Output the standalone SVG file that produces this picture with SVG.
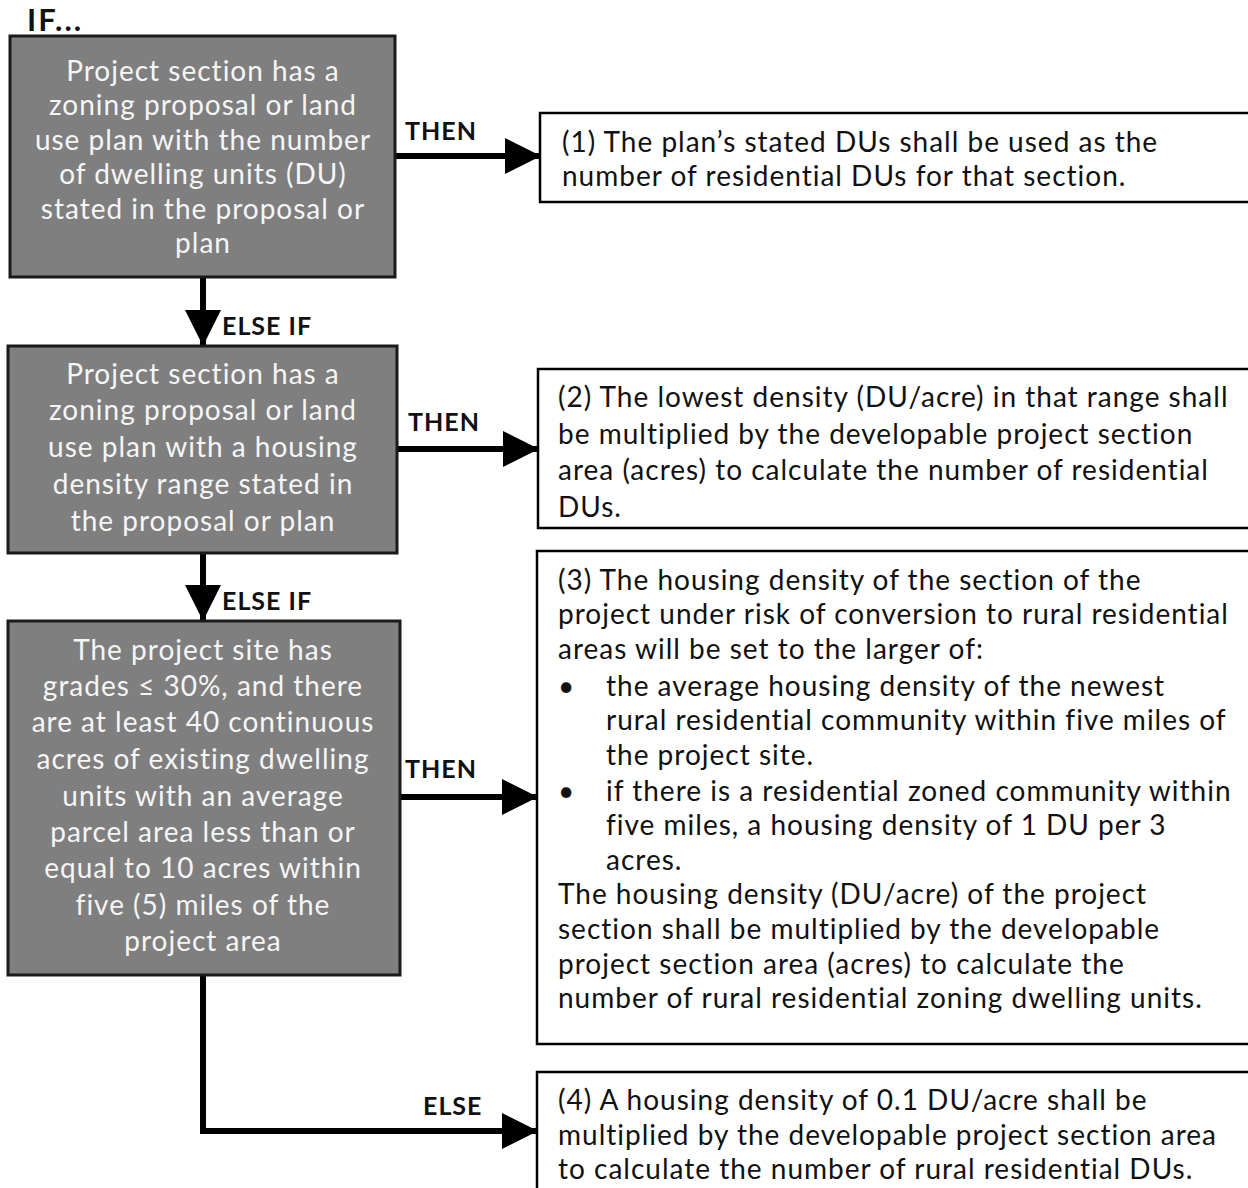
<svg xmlns="http://www.w3.org/2000/svg" width="1248" height="1188" viewBox="0 0 1248 1188">
<style>
.cond{fill:#7f7f7f;stroke:#1a1a1a;stroke-width:3}
.res{fill:#fff;stroke:#000;stroke-width:2.5}
.ct{font-family:Lato,"Noto Sans",sans-serif;font-size:28px;letter-spacing:1px;fill:#f5f5f5;text-anchor:middle}
.rt{font-family:Lato,"Noto Sans",sans-serif;font-size:28px;letter-spacing:1px;fill:#111}
.lbl{font-family:Lato,"Noto Sans",sans-serif;font-size:25px;letter-spacing:1px;font-weight:bold;fill:#111}
.ln{stroke:#000;stroke-width:6;fill:none}
</style>
<defs>
<marker id="ah" markerUnits="userSpaceOnUse" markerWidth="36" markerHeight="36" refX="35" refY="18" orient="auto">
<path d="M0,0 L36,18 L0,36 Z" fill="#000"/>
</marker>
</defs>
<rect width="1248" height="1188" fill="#fff"/>
<text class="lbl" x="27" y="31" style="font-size:31px;letter-spacing:2px">IF...</text>
<g id="connectors">
<line class="ln" x1="395" y1="156" x2="540" y2="156" marker-end="url(#ah)"/>
<line class="ln" x1="203" y1="277" x2="203" y2="345" marker-end="url(#ah)"/>
<line class="ln" x1="397" y1="449" x2="538" y2="449" marker-end="url(#ah)"/>
<line class="ln" x1="203" y1="553" x2="203" y2="620" marker-end="url(#ah)"/>
<line class="ln" x1="400" y1="797" x2="537" y2="797" marker-end="url(#ah)"/>
<polyline class="ln" points="203,975 203,1131 537,1131" marker-end="url(#ah)"/>
<text class="lbl" x="405" y="140">THEN</text>
<text class="lbl" x="222" y="335">ELSE IF</text>
<text class="lbl" x="408" y="431">THEN</text>
<text class="lbl" x="222" y="610">ELSE IF</text>
<text class="lbl" x="405" y="778">THEN</text>
<text class="lbl" x="423" y="1115">ELSE</text>
</g>
<g id="c1">
<rect class="cond" x="10" y="36" width="385" height="241"/>
<text class="ct" x="203"><tspan x="203" y="81">Project section has a</tspan><tspan x="203" y="115">zoning proposal or land</tspan><tspan x="203" y="150">use plan with the number</tspan><tspan x="203" y="184">of dwelling units (DU)</tspan><tspan x="203" y="219">stated in the proposal or</tspan><tspan x="203" y="253">plan</tspan></text>
</g>
<g id="c2">
<rect class="cond" x="8" y="346" width="389" height="207"/>
<text class="ct"><tspan x="203" y="384">Project section has a</tspan><tspan x="203" y="420">zoning proposal or land</tspan><tspan x="203" y="457">use plan with a housing</tspan><tspan x="203" y="494">density range stated in</tspan><tspan x="203" y="531">the proposal or plan</tspan></text>
</g>
<g id="c3">
<rect class="cond" x="8" y="621" width="392" height="354"/>
<text class="ct"><tspan x="203" y="660">The project site has</tspan><tspan x="203" y="696">grades ≤ 30%, and there</tspan><tspan x="203" y="732">are at least 40 continuous</tspan><tspan x="203" y="769">acres of existing dwelling</tspan><tspan x="203" y="806">units with an average</tspan><tspan x="203" y="842">parcel area less than or</tspan><tspan x="203" y="878">equal to 10 acres within</tspan><tspan x="203" y="915">five (5) miles of the</tspan><tspan x="203" y="951">project area</tspan></text>
</g>
<g id="r1">
<rect class="res" x="540" y="113" width="720" height="89"/>
<text class="rt"><tspan x="562" y="152">(1) The plan’s stated DUs shall be used as the</tspan><tspan x="562" y="186">number of residential DUs for that section.</tspan></text>
</g>
<g id="r2">
<rect class="res" x="538" y="369" width="720" height="159"/>
<text class="rt"><tspan x="558" y="407">(2) The lowest density (DU/acre) in that range shall</tspan><tspan x="558" y="444">be multiplied by the developable project section</tspan><tspan x="558" y="480">area (acres) to calculate the number of residential</tspan><tspan x="558" y="517">DUs.</tspan></text>
</g>
<g id="r3">
<rect class="res" x="537" y="551" width="720" height="493"/>
<text class="rt"><tspan x="558" y="590">(3) The housing density of the section of the</tspan><tspan x="558" y="624">project under risk of conversion to rural residential</tspan><tspan x="558" y="659">areas will be set to the larger of:</tspan><tspan x="558" y="696">•</tspan><tspan x="606" y="696">the average housing density of the newest</tspan><tspan x="606" y="730">rural residential community within five miles of</tspan><tspan x="606" y="765">the project site.</tspan><tspan x="558" y="801">•</tspan><tspan x="606" y="801">if there is a residential zoned community within</tspan><tspan x="606" y="835">five miles, a housing density of 1 DU per 3</tspan><tspan x="606" y="870">acres.</tspan><tspan x="558" y="904">The housing density (DU/acre) of the project</tspan><tspan x="558" y="939">section shall be multiplied by the developable</tspan><tspan x="558" y="974">project section area (acres) to calculate the</tspan><tspan x="558" y="1008">number of rural residential zoning dwelling units.</tspan></text>
</g>
<g id="r4">
<rect class="res" x="537" y="1072" width="720" height="140"/>
<text class="rt"><tspan x="558" y="1110">(4) A housing density of 0.1 DU/acre shall be</tspan><tspan x="558" y="1145">multiplied by the developable project section area</tspan><tspan x="558" y="1179">to calculate the number of rural residential DUs.</tspan></text>
</g>
</svg>
